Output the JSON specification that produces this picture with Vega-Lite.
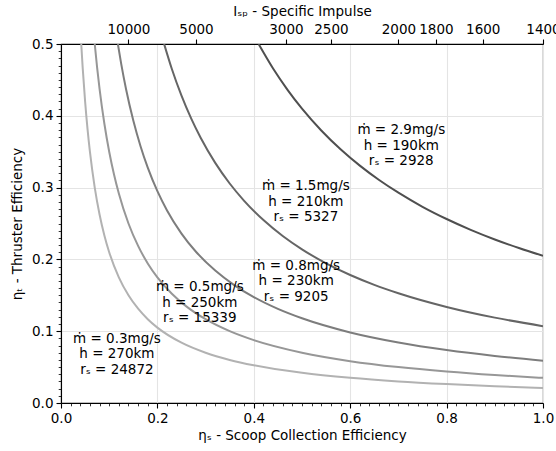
{
  "$schema": "https://vega.github.io/schema/vega-lite/v6.json",
  "width": 482,
  "height": 359,
  "autosize": "none",
  "padding": {"left": 61, "top": 44, "right": 13, "bottom": 48},
  "config": {
    "font": "DejaVu Sans",
    "view": {"stroke": "black", "strokeWidth": 1.1},
    "axis": {"labelFont": "DejaVu Sans", "titleFont": "DejaVu Sans", "labelFontSize": 13.5, "titleFontSize": 13.5, "titleFontWeight": "normal", "labelColor": "black", "titleColor": "black", "domainColor": "black", "tickColor": "black", "domainWidth": 1.1, "tickWidth": 1.1, "gridColor": "#e4e4e4", "gridWidth": 1.1}
  },
  "datasets": {
    "curves": [
      {"c": "a", "x": 0.042, "y": 0.5}, {"c": "a", "x": 0.045, "y": 0.4667}, {"c": "a", "x": 0.05, "y": 0.42}, {"c": "a", "x": 0.055, "y": 0.3818}, {"c": "a", "x": 0.06, "y": 0.35}, {"c": "a", "x": 0.07, "y": 0.3}, {"c": "a", "x": 0.08, "y": 0.2625}, {"c": "a", "x": 0.09, "y": 0.2333}, {"c": "a", "x": 0.1, "y": 0.21}, {"c": "a", "x": 0.12, "y": 0.175}, {"c": "a", "x": 0.14, "y": 0.15}, {"c": "a", "x": 0.16, "y": 0.1313}, {"c": "a", "x": 0.18, "y": 0.1167}, {"c": "a", "x": 0.2, "y": 0.105}, {"c": "a", "x": 0.25, "y": 0.084}, {"c": "a", "x": 0.3, "y": 0.07}, {"c": "a", "x": 0.35, "y": 0.06}, {"c": "a", "x": 0.4, "y": 0.0525}, {"c": "a", "x": 0.5, "y": 0.042}, {"c": "a", "x": 0.6, "y": 0.035}, {"c": "a", "x": 0.7, "y": 0.03}, {"c": "a", "x": 0.8, "y": 0.0263}, {"c": "a", "x": 0.9, "y": 0.0233}, {"c": "a", "x": 1.0, "y": 0.021},
      {"c": "b", "x": 0.07, "y": 0.5}, {"c": "b", "x": 0.075, "y": 0.4667}, {"c": "b", "x": 0.08, "y": 0.4375}, {"c": "b", "x": 0.09, "y": 0.3889}, {"c": "b", "x": 0.1, "y": 0.35}, {"c": "b", "x": 0.11, "y": 0.3182}, {"c": "b", "x": 0.12, "y": 0.2917}, {"c": "b", "x": 0.14, "y": 0.25}, {"c": "b", "x": 0.16, "y": 0.2188}, {"c": "b", "x": 0.18, "y": 0.1944}, {"c": "b", "x": 0.2, "y": 0.175}, {"c": "b", "x": 0.23, "y": 0.1522}, {"c": "b", "x": 0.26, "y": 0.1346}, {"c": "b", "x": 0.3, "y": 0.1167}, {"c": "b", "x": 0.35, "y": 0.1}, {"c": "b", "x": 0.4, "y": 0.0875}, {"c": "b", "x": 0.5, "y": 0.07}, {"c": "b", "x": 0.6, "y": 0.0583}, {"c": "b", "x": 0.7, "y": 0.05}, {"c": "b", "x": 0.8, "y": 0.0438}, {"c": "b", "x": 0.9, "y": 0.0389}, {"c": "b", "x": 1.0, "y": 0.035},
      {"c": "c", "x": 0.118, "y": 0.5}, {"c": "c", "x": 0.125, "y": 0.472}, {"c": "c", "x": 0.135, "y": 0.437}, {"c": "c", "x": 0.15, "y": 0.3933}, {"c": "c", "x": 0.165, "y": 0.3576}, {"c": "c", "x": 0.18, "y": 0.3278}, {"c": "c", "x": 0.2, "y": 0.295}, {"c": "c", "x": 0.22, "y": 0.2682}, {"c": "c", "x": 0.25, "y": 0.236}, {"c": "c", "x": 0.28, "y": 0.2107}, {"c": "c", "x": 0.32, "y": 0.1844}, {"c": "c", "x": 0.36, "y": 0.1639}, {"c": "c", "x": 0.4, "y": 0.1475}, {"c": "c", "x": 0.45, "y": 0.1311}, {"c": "c", "x": 0.5, "y": 0.118}, {"c": "c", "x": 0.6, "y": 0.0983}, {"c": "c", "x": 0.7, "y": 0.0843}, {"c": "c", "x": 0.8, "y": 0.0738}, {"c": "c", "x": 0.9, "y": 0.0656}, {"c": "c", "x": 1.0, "y": 0.059},
      {"c": "d", "x": 0.214, "y": 0.5}, {"c": "d", "x": 0.23, "y": 0.4652}, {"c": "d", "x": 0.25, "y": 0.428}, {"c": "d", "x": 0.27, "y": 0.3963}, {"c": "d", "x": 0.29, "y": 0.369}, {"c": "d", "x": 0.32, "y": 0.3344}, {"c": "d", "x": 0.35, "y": 0.3057}, {"c": "d", "x": 0.38, "y": 0.2816}, {"c": "d", "x": 0.42, "y": 0.2548}, {"c": "d", "x": 0.46, "y": 0.2326}, {"c": "d", "x": 0.5, "y": 0.214}, {"c": "d", "x": 0.55, "y": 0.1945}, {"c": "d", "x": 0.6, "y": 0.1783}, {"c": "d", "x": 0.65, "y": 0.1646}, {"c": "d", "x": 0.7, "y": 0.1529}, {"c": "d", "x": 0.8, "y": 0.1338}, {"c": "d", "x": 0.9, "y": 0.1189}, {"c": "d", "x": 1.0, "y": 0.107},
      {"c": "e", "x": 0.41, "y": 0.5}, {"c": "e", "x": 0.44, "y": 0.4659}, {"c": "e", "x": 0.47, "y": 0.4362}, {"c": "e", "x": 0.5, "y": 0.41}, {"c": "e", "x": 0.54, "y": 0.3796}, {"c": "e", "x": 0.58, "y": 0.3534}, {"c": "e", "x": 0.62, "y": 0.3306}, {"c": "e", "x": 0.66, "y": 0.3106}, {"c": "e", "x": 0.7, "y": 0.2929}, {"c": "e", "x": 0.75, "y": 0.2733}, {"c": "e", "x": 0.8, "y": 0.2563}, {"c": "e", "x": 0.85, "y": 0.2412}, {"c": "e", "x": 0.9, "y": 0.2278}, {"c": "e", "x": 0.95, "y": 0.2158}, {"c": "e", "x": 1.0, "y": 0.205}
    ],
    "labels": [
      {"x": 0.116, "y": 0.0897, "t": "ṁ = 0.3mg/s\nh = 270km\nrₛ = 24872"},
      {"x": 0.288, "y": 0.1609, "t": "ṁ = 0.5mg/s\nh = 250km\nrₛ = 15339"},
      {"x": 0.488, "y": 0.1915, "t": "ṁ = 0.8mg/s\nh = 230km\nrₛ = 9205"},
      {"x": 0.508, "y": 0.3017, "t": "ṁ = 1.5mg/s\nh = 210km\nrₛ = 5327"},
      {"x": 0.706, "y": 0.3802, "t": "ṁ = 2.9mg/s\nh = 190km\nrₛ = 2928"}
    ]
  },
  "resolve": {"axis": {"x": "independent", "y": "independent"}},
  "layer": [
    {
      "data": {"name": "curves"},
      "mark": {"type": "line", "strokeWidth": 2, "interpolate": "monotone", "clip": true},
      "encoding": {
        "x": {"field": "x", "type": "quantitative", "scale": {"domain": [0, 1], "nice": false}, "axis": {
          "orient": "bottom",
          "values": [0, 0.02, 0.04, 0.06, 0.08, 0.1, 0.12, 0.14, 0.16, 0.18, 0.2, 0.22, 0.24, 0.26, 0.28, 0.3, 0.32, 0.34, 0.36, 0.38, 0.4, 0.42, 0.44, 0.46, 0.48, 0.5, 0.52, 0.54, 0.56, 0.58, 0.6, 0.62, 0.64, 0.66, 0.68, 0.7, 0.72, 0.74, 0.76, 0.78, 0.8, 0.82, 0.84, 0.86, 0.88, 0.9, 0.92, 0.94, 0.96, 0.98, 1.0],
          "labelExpr": "abs(datum.value*5 - round(datum.value*5)) < 0.001 ? format(datum.value, '.1f') : ''",
          "tickSize": {"condition": {"test": "abs(datum.value*5 - round(datum.value*5)) < 0.001", "value": 5}, "value": 2.8},
          "tickWidth": {"condition": {"test": "abs(datum.value*5 - round(datum.value*5)) < 0.001", "value": 1.1}, "value": 0.8},
          "gridOpacity": {"condition": {"test": "abs(datum.value*5 - round(datum.value*5)) < 0.001", "value": 1}, "value": 0},
          "labelPadding": 3, "titlePadding": 4, "grid": true, "labelFlush": false, "labelOverlap": false,
          "title": "ηₛ - Scoop Collection Efficiency"}},
        "y": {"field": "y", "type": "quantitative", "scale": {"domain": [0, 0.5], "nice": false}, "axis": {
          "orient": "left",
          "values": [0, 0.01, 0.02, 0.03, 0.04, 0.05, 0.06, 0.07, 0.08, 0.09, 0.1, 0.11, 0.12, 0.13, 0.14, 0.15, 0.16, 0.17, 0.18, 0.19, 0.2, 0.21, 0.22, 0.23, 0.24, 0.25, 0.26, 0.27, 0.28, 0.29, 0.3, 0.31, 0.32, 0.33, 0.34, 0.35, 0.36, 0.37, 0.38, 0.39, 0.4, 0.41, 0.42, 0.43, 0.44, 0.45, 0.46, 0.47, 0.48, 0.49, 0.5],
          "labelExpr": "abs(datum.value*10 - round(datum.value*10)) < 0.001 ? format(datum.value, '.1f') : ''",
          "tickSize": {"condition": {"test": "abs(datum.value*10 - round(datum.value*10)) < 0.001", "value": 5}, "value": 2.8},
          "tickWidth": {"condition": {"test": "abs(datum.value*10 - round(datum.value*10)) < 0.001", "value": 1.1}, "value": 0.8},
          "gridOpacity": {"condition": {"test": "abs(datum.value*10 - round(datum.value*10)) < 0.001", "value": 1}, "value": 0},
          "labelPadding": 3, "titlePadding": 7, "grid": true, "labelFlush": false, "labelOverlap": false,
          "title": "ηₜ - Thruster Efficiency"}},
        "color": {"field": "c", "type": "nominal", "legend": null, "scale": {"domain": ["a", "b", "c", "d", "e"], "range": ["#b2b2b2", "#979797", "#7d7d7d", "#656565", "#4f4f4f"]}}
      }
    },
    {
      "data": {"name": "labels"},
      "mark": {"type": "text", "align": "center", "baseline": "middle", "lineBreak": "\n", "lineHeight": 15.5, "fontSize": 13.5, "font": "DejaVu Sans", "color": "black"},
      "encoding": {
        "x": {"field": "x", "type": "quantitative", "axis": {"orient": "top", "values": [0.14, 0.28, 0.466667, 0.56, 0.7, 0.777778, 0.875, 1.0], "labelExpr": "format(round(1400/datum.value/100)*100, 'd')", "tickSize": 5, "labelPadding": 3, "titlePadding": 4, "grid": false, "labelFlush": false, "labelOverlap": false, "title": "Iₛₚ - Specific Impulse"}},
        "y": {"field": "y", "type": "quantitative", "axis": null},
        "text": {"field": "t", "type": "nominal"}
      }
    }
  ]
}
